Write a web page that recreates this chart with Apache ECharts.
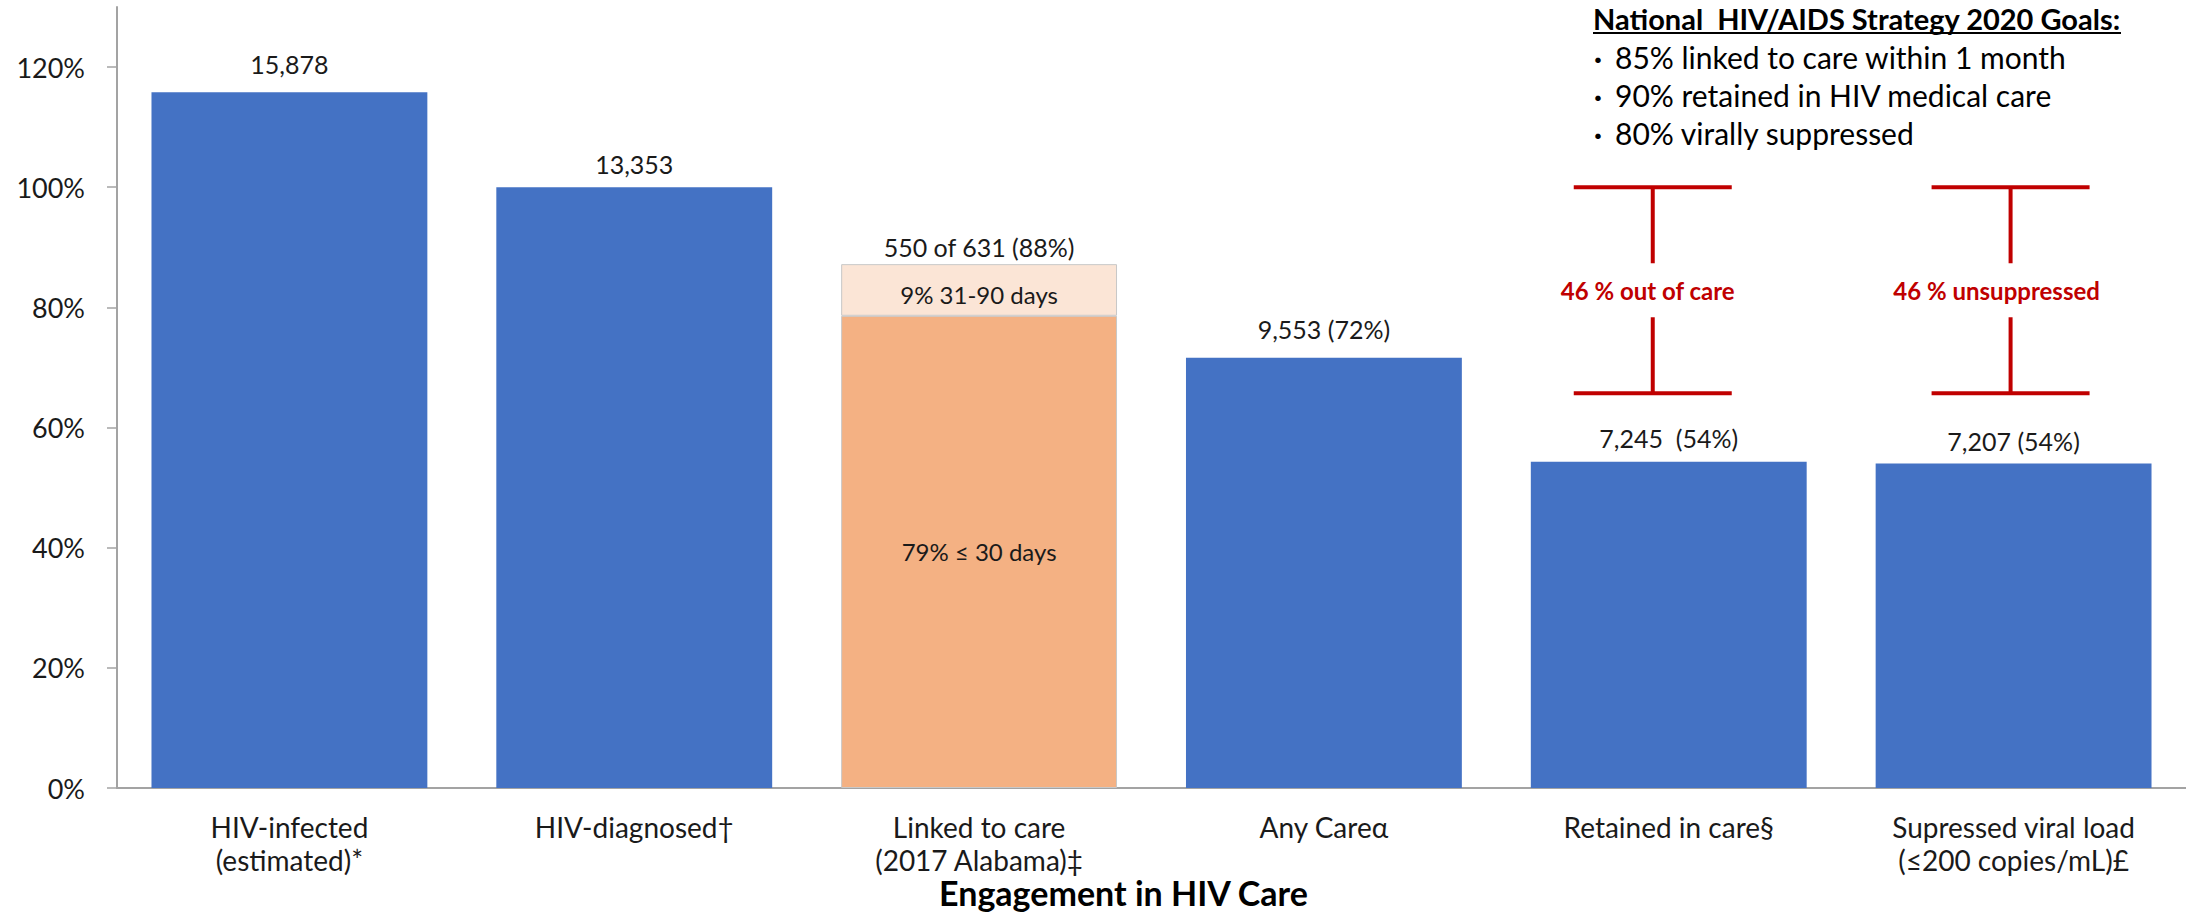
<!DOCTYPE html>
<html>
<head>
<meta charset="utf-8">
<title>Engagement in HIV Care</title>
<script src="https://cdn.jsdelivr.net/npm/echarts@6/dist/echarts.min.js"></script>
<style>
  html, body { margin: 0; padding: 0; background: #ffffff; }
  #chart { width: 2186px; height: 913px; }
</style>
</head>
<body>
<div id="chart"></div>
<script>
// ---- data ----
const categories = [
  'HIV-infected\n(estimated)*',
  'HIV-diagnosed†',
  'Linked to care\n(2017 Alabama)‡',
  'Any Careα',
  'Retained in care§',
  'Supressed viral load\n(≤200 copies/mL)£'
];
// percent of diagnosed population (main segment of each bar)
const basePct = [115.8, 100, 78.6, 71.6, 54.3, 54.0];
// linked to care in 31-90 days (stacked on the "Linked to care" bar)
const latePct = [null, null, 8.6, null, null, null];
const topLabels = ['15,878', '13,353', '550 of 631 (88%)', '9,553 (72%)', '7,245  (54%)', '7,207 (54%)'];
const baseInnerLabels = [null, null, '79% ≤ 30 days', null, null, null];
const lateInnerLabels = [null, null, '9% 31-90 days', null, null, null];
const yTicks = [0, 20, 40, 60, 80, 100, 120];

// gaps to the 2020 goals, drawn as brackets
const gapCategories = [4, 5];
const gapLow = [65.7, 65.7];
const gapHigh = [100, 100];
const gapLabels = ['46 % out of care', '46 % unsuppressed'];

const goalsTitle = 'National  HIV/AIDS Strategy 2020 Goals:';
const goals = [
  '85% linked to care within 1 month',
  '90% retained in HIV medical care',
  '80% virally suppressed'
];

// ---- styling ----
const FONT = 'Lato, "Noto Sans", sans-serif';
const BLUE = '#4472C4';
const ORANGE = '#F4B183';
const PEACH = '#FBE5D6';
const RED = '#C00000';
const TEXT = '#1a1a1a';
const AXIS = '#a3a3a3';
// vertical distance from bar top to the centre of its value label
const labelRise = [28, 23, 17, 29, 24, 23];
const bracketShift = [-16, -3];
const bracketTextShift = [-5, -14];

const chart = echarts.init(document.getElementById('chart'), null, { renderer: 'svg' });

const baseData = basePct.map((v, i) => ({
  value: v,
  itemStyle: i === 2
    ? { color: ORANGE, borderColor: '#c8c8c8', borderWidth: 1 }
    : { color: BLUE },
  label: baseInnerLabels[i]
    ? { show: true, position: 'inside', formatter: baseInnerLabels[i] }
    : { show: false }
}));

const lateData = latePct.map((v, i) => (v == null ? '-' : {
  value: v,
  itemStyle: { color: PEACH, borderColor: '#c8c8c8', borderWidth: 1 },
  label: { show: true, position: 'inside', offset: [0, 5], formatter: lateInnerLabels[i] }
}));

const topData = basePct.map((v, i) => [i, v + (latePct[i] || 0)]);
const bracketData = gapCategories.map((c, i) => [c, gapLow[i], gapHigh[i]]);

const option = {
  backgroundColor: '#ffffff',
  animation: false,
  textStyle: { fontFamily: FONT },
  grid: {
    left: 117, top: 7, width: 2069, height: 781,
    containLabel: false, outerBoundsMode: 'none'
  },
  xAxis: {
    type: 'category',
    data: categories,
    axisLine: { lineStyle: { color: AXIS, width: 2 } },
    axisTick: { length: 10, lineStyle: { color: AXIS, width: 1.5 } },
    axisLabel: {
      interval: 0, margin: 22, fontFamily: FONT, fontSize: 28,
      lineHeight: 33, color: TEXT
    },
    name: 'Engagement in HIV Care',
    nameLocation: 'middle',
    nameGap: 92,
    nameMoveOverlap: false,
    nameTextStyle: {
      fontFamily: FONT, fontWeight: 'bold', fontSize: 34, lineHeight: 24, color: '#000',
      padding: [0, 56, 0, 0]
    }
  },
  yAxis: {
    type: 'value',
    min: 0,
    max: 130,
    interval: 20,
    splitLine: { show: false },
    axisLine: { show: true, lineStyle: { color: AXIS, width: 2 } },
    axisTick: { show: true, length: 10, customValues: yTicks, lineStyle: { color: AXIS, width: 1.5 } },
    axisLabel: {
      customValues: yTicks, formatter: v => v + '%', margin: 32,
      fontFamily: FONT, fontSize: 27, color: TEXT
    }
  },
  series: [
    {
      name: 'base', type: 'bar', stack: 'care', barCategoryGap: '20%',
      data: baseData,
      label: { fontFamily: FONT, fontSize: 24, color: TEXT }
    },
    {
      name: 'late', type: 'bar', stack: 'care', barCategoryGap: '20%',
      data: lateData,
      label: { fontFamily: FONT, fontSize: 24, color: TEXT }
    },
    {
      // value labels above each bar
      name: 'totals', type: 'custom',
      data: topData,
      encode: { x: 0, y: 1 },
      z: 5,
      renderItem: function (params, api) {
        const i = params.dataIndex;
        const p = api.coord([api.value(0), api.value(1)]);
        return {
          type: 'text', x: p[0], y: p[1] - labelRise[i],
          style: {
            text: topLabels[i], fill: TEXT, font: '25px ' + FONT,
            align: 'center', verticalAlign: 'middle'
          }
        };
      }
    },
    {
      name: 'gaps', type: 'custom',
      data: bracketData,
      encode: { x: 0, y: [1, 2] },
      z: 6,
      renderItem: function (params, api) {
        const i = params.dataIndex;
        const cat = api.value(0);
        const lo = api.coord([cat, api.value(1)]);
        const hi = api.coord([cat, api.value(2)]);
        const x = hi[0] + bracketShift[i];
        const half = 79;
        const mid = (hi[1] + lo[1]) / 2;
        const gap = 27;
        const ls = { stroke: RED, lineWidth: 4 };
        return {
          type: 'group',
          children: [
            { type: 'line', shape: { x1: x - half, y1: hi[1], x2: x + half, y2: hi[1] }, style: ls },
            { type: 'line', shape: { x1: x, y1: hi[1], x2: x, y2: mid - gap }, style: ls },
            { type: 'line', shape: { x1: x, y1: mid + gap, x2: x, y2: lo[1] }, style: ls },
            { type: 'line', shape: { x1: x - half, y1: lo[1], x2: x + half, y2: lo[1] }, style: ls },
            {
              type: 'text', x: x + bracketTextShift[i], y: mid,
              style: {
                text: gapLabels[i], fill: RED, font: 'bold 24px ' + FONT,
                align: 'center', verticalAlign: 'middle'
              }
            }
          ]
        };
      }
    }
  ],
  graphic: [
    {
      type: 'text', x: 1593, y: 18,
      style: { text: goalsTitle, font: 'bold 29px ' + FONT, fill: '#000', verticalAlign: 'middle' }
    },
    {
      type: 'line', shape: { x1: 1593, y1: 33, x2: 2121, y2: 33 },
      style: { stroke: '#000', lineWidth: 2 }
    }
  ].concat(goals.flatMap((g, i) => [
    {
      type: 'text', x: 1594, y: 57 + i * 38,
      style: { text: '·', font: 'bold 29px ' + FONT, fill: '#000', verticalAlign: 'middle' }
    },
    {
      type: 'text', x: 1615, y: 57 + i * 38,
      style: { text: g, font: '30px ' + FONT, fill: '#000', verticalAlign: 'middle' }
    }
  ]))
};

chart.setOption(option);
</script>
</body>
</html>
